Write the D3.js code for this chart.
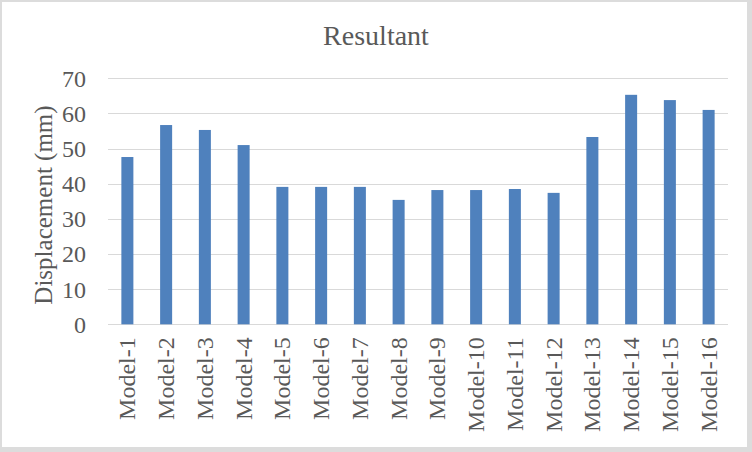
<!DOCTYPE html>
<html><head><meta charset="utf-8">
<script src="https://cdn.jsdelivr.net/npm/d3@7"></script>
<style>body{margin:0;background:#fff}svg{display:block}</style>
</head><body>
<svg id="c" width="752" height="452"></svg>
<script>
const categories = ["Model-1","Model-2","Model-3","Model-4","Model-5","Model-6","Model-7","Model-8","Model-9","Model-10","Model-11","Model-12","Model-13","Model-14","Model-15","Model-16"];
const values = [47.6, 56.7, 55.3, 51.0, 39.1, 39.1, 39.1, 35.4, 38.2, 38.2, 38.5, 37.4, 53.3, 65.3, 63.8, 61.0];
const yTicks = [0,10,20,30,40,50,60,70];
const title = "Resultant";
const yTitle = "Displacement (mm)";

const svg = d3.select("#c");
const W = 752, H = 452;
const font = "'Liberation Serif','Times New Roman',serif";
const textColor = "#595959";

svg.append("rect").attr("x",0).attr("y",0).attr("width",W).attr("height",H).attr("fill","#dcdcdc");
svg.append("rect").attr("x",2).attr("y",2).attr("width",745).attr("height",445).attr("fill","#fff");

const m = {left:108, right:728, top:78.3, bottom:324.3};
const x = d3.scaleBand().domain(categories).range([m.left, m.right]).paddingInner(0.69).paddingOuter(0.345);
const y = d3.scaleLinear().domain([0,70]).range([m.bottom, m.top]);

// gridlines
svg.append("g").selectAll("line").data(yTicks).join("line")
  .attr("x1", m.left).attr("x2", m.right)
  .attr("y1", d => Math.round(y(d))+0.5).attr("y2", d => Math.round(y(d))+0.5)
  .attr("stroke", "#d9d9d9").attr("stroke-width", 1);

// bars
svg.append("g").selectAll("rect").data(values).join("rect")
  .attr("x", (d,i) => x(categories[i]))
  .attr("width", x.bandwidth())
  .attr("y", d => y(d))
  .attr("height", d => y(0) - y(d))
  .attr("fill", "#4f81bd");

// y axis
const yAxis = d3.axisLeft(y).tickValues(yTicks).tickSize(0).tickPadding(0);
const gy = svg.append("g").attr("transform", `translate(${m.left - 22},0)`).call(yAxis);
gy.select(".domain").remove();
gy.selectAll("text").attr("font-family", font).attr("font-size", 24).attr("fill", textColor).attr("dy","0.33em");

// x axis
const xAxis = d3.axisBottom(x).tickSize(0).tickPadding(0);
const gx = svg.append("g").attr("transform", `translate(0,${m.bottom})`).call(xAxis);
gx.select(".domain").remove();
gx.selectAll("text")
  .attr("font-family", font).attr("font-size", 24).attr("fill", textColor)
  .attr("text-anchor", "end")
  .attr("transform", "rotate(-90)")
  .attr("x", -13).attr("y", 0).attr("dy", "0.33em");

// title
svg.append("text").attr("x", 376).attr("y", 45).attr("text-anchor","middle")
  .attr("font-family", font).attr("font-size", 28).attr("fill", textColor).text(title);

// y title
svg.append("text").attr("transform", `translate(52,205) rotate(-90)`)
  .attr("text-anchor","middle").attr("font-family", font).attr("font-size", 25)
  .attr("fill", textColor).text(yTitle);
</script>
</body></html>
